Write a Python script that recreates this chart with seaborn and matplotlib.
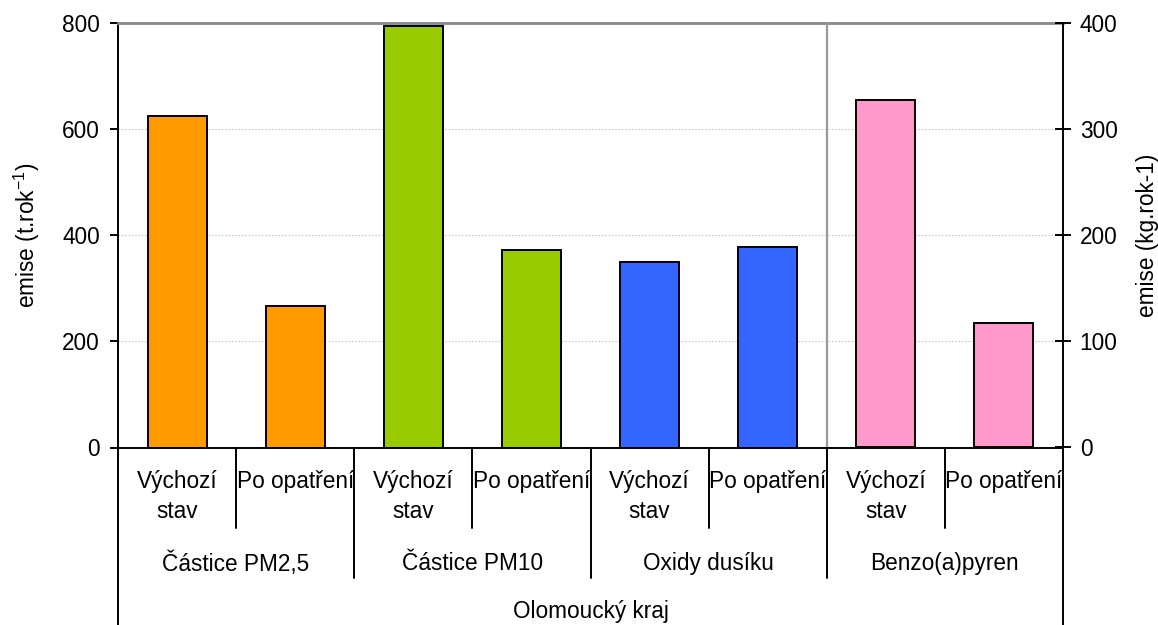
import matplotlib
matplotlib.use("Agg")
import matplotlib.pyplot as plt
import seaborn as sns
import pandas as pd

# hodnoty
skupiny = ["Částice PM2,5", "Částice PM10", "Oxidy dusíku", "Benzo(a)pyren"]
stavy = ["Výchozí stav", "Po opatření"]
emise_t = [625, 266, 795, 373, 350, 377]   # t.rok-1 (levá osa)
emise_bap = [327, 117]                     # kg.rok-1 (pravá osa)
barvy = ["#FF9900", "#99CC00", "#3366FF", "#FF99CC"]
kraj = "Olomoucký kraj"

klice = [f"{g}|{s}" for g in skupiny for s in stavy]
df = pd.DataFrame({
    "klic": klice,
    "skupina": [g for g in skupiny for s in stavy],
    "stav": [s for g in skupiny for s in stavy],
    "emise": emise_t + emise_bap,
})
df_t = df[df["skupina"] != skupiny[3]]
df_b = df[df["skupina"] == skupiny[3]]
paleta = dict(zip(skupiny, barvy))

sns.set_style("white")
plt.rcParams["font.family"] = ["Liberation Sans", "DejaVu Sans"]
plt.rcParams["text.color"] = "black"
plt.rcParams["axes.labelcolor"] = "black"
fs = 16.3

fig = plt.figure(figsize=(11.58, 6.25), dpi=100)
ax = fig.add_axes([118 / 1158, 1 - 447.5 / 625, 945 / 1158, 424.5 / 625])
ax2 = ax.twinx()

for data, a in ((df_t, ax), (df_b, ax2)):
    sns.barplot(data=data, x="klic", y="emise", hue="skupina", order=klice,
                palette=paleta, width=0.5, dodge=False, legend=False,
                errorbar=None, saturation=1, edgecolor="black", linewidth=1.4,
                ax=a)

ax.set_xlim(-0.5, len(klice) - 0.5)
ax.set_ylim(0, 800)
ax2.set_ylim(0, 400)
ax.set_yticks(range(0, 801, 200))
ax2.set_yticks(range(0, 401, 100))

ax.set_axisbelow(True)
ax.yaxis.grid(True, linestyle=(0, (1.5, 1.5)), color="#C8C8C8", linewidth=0.8)
ax.xaxis.grid(False)
ax2.grid(False)

for a in (ax, ax2):
    a.set_xlabel("")
    a.tick_params(axis="x", bottom=False, labelbottom=False)
    for s in a.spines.values():
        s.set_visible(False)
for a, side in ((ax, "left"), (ax, "bottom"), (ax2, "right")):
    a.spines[side].set_visible(True)
    a.spines[side].set_color("black")
    a.spines[side].set_linewidth(1.4)
ax.spines["top"].set_visible(True)
ax.spines["top"].set_color("#888888")
ax.spines["top"].set_linewidth(2)

ax.tick_params(axis="y", left=True, direction="out", length=6, width=1.4,
               pad=7, labelsize=fs, colors="black")
ax2.tick_params(axis="y", right=True, direction="inout", length=12, width=1.4,
                pad=6, labelsize=fs, colors="black")

ax.set_ylabel(r"emise (t.rok$^{\mathregular{-1}}$)", fontsize=fs)
ax2.set_ylabel("emise (kg.rok-1)", fontsize=fs)
ax.yaxis.set_label_coords(-0.08, 0.5)
ax2.yaxis.set_label_coords(1.077, 0.5)

# svislá čára oddělující pravou osu
ax2.axvline(5.5, color="#999999", linewidth=1.6)

# víceúrovňové popisky osy x
tr = ax.get_xaxis_transform()
for i, k in enumerate(klice):
    stav = k.split("|")[1]
    radky = stav.split(" ") if stav == stavy[0] else [stav]
    for j, r in enumerate(radky):
        ax.text(i, -0.0806 - j * 0.0707, r, transform=tr, ha="center",
                va="center", fontsize=fs)
for gi, g in enumerate(skupiny):
    ax.text(2 * gi + 0.5, -0.2728, g, transform=tr, ha="center", va="center",
            fontsize=fs)
ax.text((len(klice) - 1) / 2, -0.3875, kraj, transform=tr, ha="center",
        va="center", fontsize=fs)

for x in [0.5, 2.5, 4.5, 6.5]:
    ax.plot([x, x], [0, -0.1896], transform=tr, clip_on=False, color="black", lw=1.4)
for x in [1.5, 3.5, 5.5]:
    ax.plot([x, x], [0, -0.3074], transform=tr, clip_on=False, color="black", lw=1.4)
for x in [-0.5, 7.5]:
    ax.plot([x, x], [0, -0.45], transform=tr, clip_on=False, color="black", lw=1.4)

fig.savefig("out.png", dpi=100)
